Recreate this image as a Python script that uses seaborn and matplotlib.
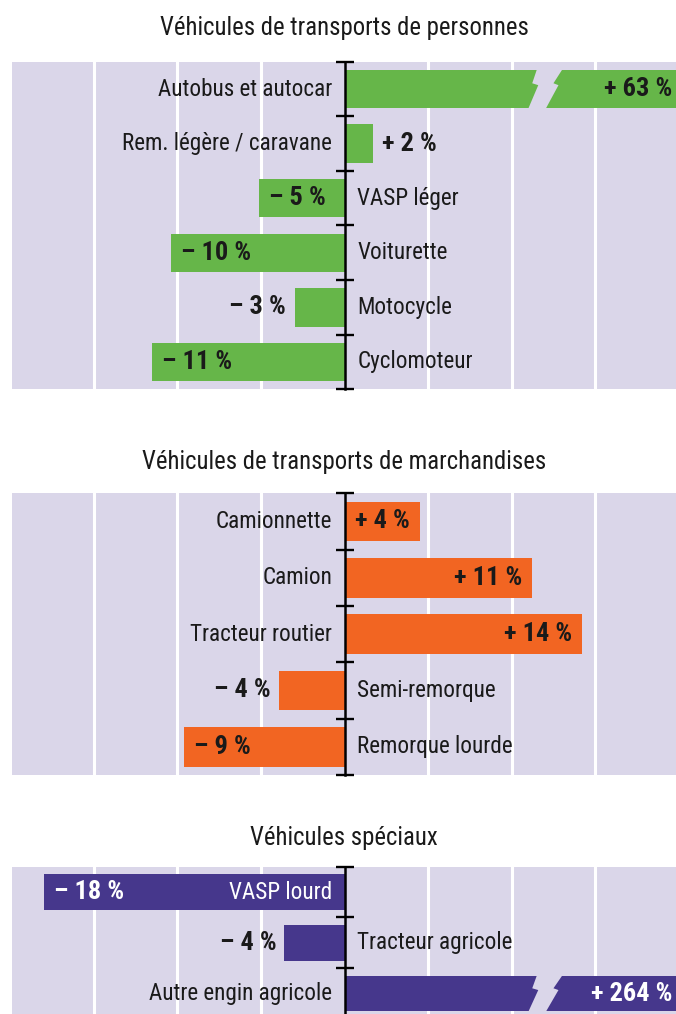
import numpy as np
import matplotlib
matplotlib.use('Agg')
import matplotlib.pyplot as plt
from matplotlib import font_manager
import seaborn as sns

# Données (évolution en %)
cat_personnes = ['Autobus et autocar', 'Rem. légère / caravane', 'VASP léger',
                 'Voiturette', 'Motocycle', 'Cyclomoteur']
val_personnes = [63, 1.7, -5.1, -10.4, -3.0, -11.5]
lab_personnes = ['+ 63 %', '+ 2 %', '– 5 %', '– 10 %', '– 3 %', '– 11 %']

cat_marchandises = ['Camionnette', 'Camion', 'Tracteur routier',
                    'Semi-remorque', 'Remorque lourde']
val_marchandises = [4.5, 11.2, 14.2, -3.9, -9.6]
lab_marchandises = ['+ 4 %', '+ 11 %', '+ 14 %', '– 4 %', '– 9 %']

cat_speciaux = ['VASP lourd', 'Tracteur agricole', 'Autre engin agricole']
val_speciaux = [-18.0, -3.6, 264]
lab_speciaux = ['– 18 %', '– 4 %', '+ 264 %']

titres = ['Véhicules de transports de personnes',
          'Véhicules de transports de marchandises',
          'Véhicules spéciaux']

VERT = '#66b649'
ORANGE = '#f26522'
VIOLET = '#46378c'
FOND = '#dad6e9'
NOIR = '#1a1a1a'

# police étroite si disponible
polices = font_manager.fontManager.ttflist
noms = {f.name for f in polices}
etroit = None
for nom in ['Roboto Condensed', 'Liberation Sans Narrow', 'Open Sans Condensed',
            'Noto Sans Condensed', 'DejaVu Sans Condensed']:
    if nom in noms:
        etroit = nom
        break
if etroit is None:
    for f in polices:
        if str(f.stretch).lower() in ('condensed', 'semi-condensed', 'extra-condensed'):
            etroit = f.name
            plt.rcParams['font.stretch'] = f.stretch
            break
if etroit is None:
    etroit = 'Roboto'
plt.rcParams['font.family'] = [etroit, 'DejaVu Sans']
FS_TITRE = 17.8
FS = 16.7      # catégories
FS_VAL = 19    # valeurs

W, H = 676, 1014
XMIN, XMAX = -19.9, 20
COUPURE = 12

fig = plt.figure(figsize=(W / 100, H / 100), dpi=100)


def creer_axes(haut, bas):
    return fig.add_axes([12 / W, 1 - bas / H, (679 - 12) / W, (bas - haut) / H])


def panneau(ax, cats, vals, labs, couleur, col_int):
    n = len(cats)
    sns.barplot(x=vals, y=cats, color=couleur, saturation=1, width=0.7,
                errorbar=None, linewidth=0, ax=ax)
    ax.set_facecolor(FOND)
    ax.set_xlim(XMIN, XMAX)
    ax.set_ylim(n - 0.5, -0.5)
    ax.set_xlabel('')
    ax.set_ylabel('')

    # grille blanche verticale
    ax.set_xticks([-15, -10, -5, 5, 10, 15])
    ax.grid(axis='x', color='white', linewidth=2.2)
    ax.grid(axis='y', visible=False)
    ax.set_axisbelow(True)
    ax.tick_params(axis='x', length=0, labelbottom=False)

    # axe central avec graduations entre les barres
    ax.set_yticks(np.arange(n + 1) - 0.5)
    ax.set_yticklabels([])
    ax.tick_params(axis='y', direction='inout', length=13, width=1.7, color='black')
    for s in ['top', 'right', 'bottom']:
        ax.spines[s].set_visible(False)
    ax.spines['left'].set_position(('data', 0))
    ax.spines['left'].set_linewidth(1.8)
    ax.spines['left'].set_color('black')

    for i, (v, lab, cat) in enumerate(zip(vals, labs, cats)):
        fin = min(max(v, XMIN), XMAX)
        dedans = abs(v) >= 4.2
        if v > 0:
            if dedans:
                pad = 0.4 if v > XMAX else 0.6
                ax.text(fin - pad, i, lab, ha='right', va='center', fontsize=FS_VAL,
                        weight='bold', color=col_int)
            else:
                ax.text(fin + 0.55, i, lab, ha='left', va='center', fontsize=FS_VAL,
                        weight='bold', color=NOIR)
            ax.text(-0.75, i, cat, ha='right', va='center', fontsize=FS, color=NOIR)
        else:
            if dedans:
                ax.text(fin + 0.6, i, lab, ha='left', va='center', fontsize=FS_VAL,
                        weight='bold', color=col_int)
            else:
                ax.text(fin - 0.5, i, lab, ha='right', va='center', fontsize=FS_VAL,
                        weight='bold', color=NOIR)
            if abs(v) > 15:
                ax.text(-0.75, i, cat, ha='right', va='center', fontsize=FS, color=col_int)
            else:
                ax.text(0.75, i, cat, ha='left', va='center', fontsize=FS, color=NOIR)

        # coupure en éclair pour les barres hors échelle
        if v > XMAX:
            fr = np.array([-0.08, 0.35, 0.40, 1.08])
            gauche = COUPURE + np.array([-0.45, -0.78, -0.42, -1.08])
            droite = COUPURE + np.array([1.12, 0.49, 0.79, -0.05])
            ys = i - 0.35 + fr * 0.7
            xs = np.concatenate([gauche, droite[::-1]])
            yy = np.concatenate([ys, ys[::-1]])
            ax.fill(xs, yy, color=FOND, linewidth=0, zorder=2)


ax1 = creer_axes(61.7, 389.3)
panneau(ax1, cat_personnes, val_personnes, lab_personnes, VERT, NOIR)
ax2 = creer_axes(493.3, 775)
panneau(ax2, cat_marchandises, val_marchandises, lab_marchandises, ORANGE, NOIR)
ax3 = creer_axes(866.7, 1019)
panneau(ax3, cat_speciaux, val_speciaux, lab_speciaux, VIOLET, 'white')

for titre, y in zip(titres, [28, 462, 838]):
    fig.text(344 / W, 1 - y / H, titre, ha='center', va='center', fontsize=FS_TITRE,
             color=NOIR)

fig.savefig('out.png', dpi=100)
